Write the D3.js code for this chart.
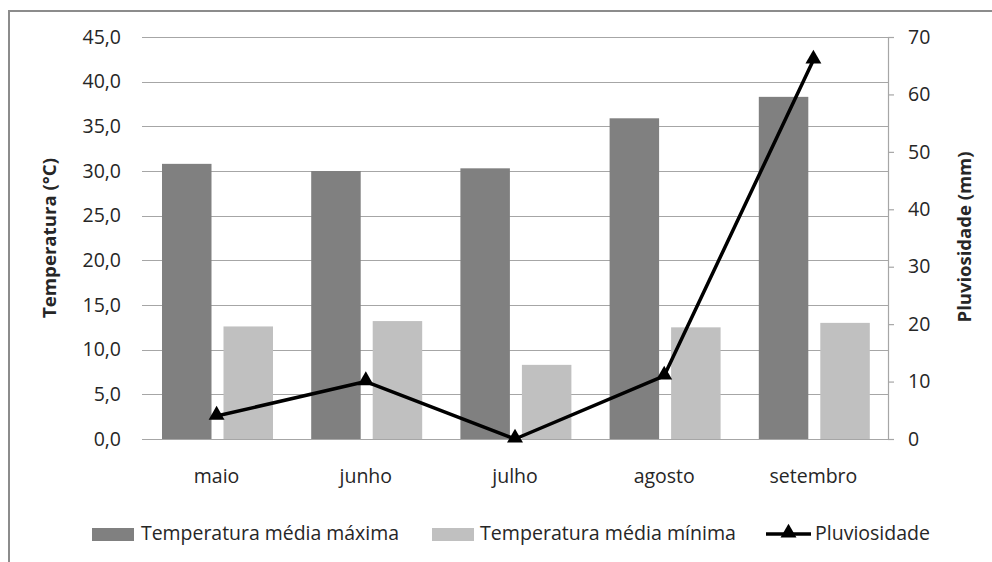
<!DOCTYPE html>
<html>
<head>
<meta charset="utf-8">
<script src="https://cdn.jsdelivr.net/npm/d3@7"></script>
<style>
  html, body { margin: 0; padding: 0; background: #ffffff; }
  svg { display: block; }
  text { font-family: "Open Sans", "DejaVu Sans", sans-serif; fill: #262626; }
</style>
</head>
<body>
<svg id="chart" width="992" height="562"></svg>
<script>
const months = ["maio", "junho", "julho", "agosto", "setembro"];
const tempMax = [30.8, 30.0, 30.3, 35.9, 38.3];
const tempMin = [12.6, 13.2, 8.3, 12.5, 13.0];
const rain = [4, 10, 0, 11, 66];
const leftTicks = [0, 5, 10, 15, 20, 25, 30, 35, 40, 45];
const rightTicks = [0, 10, 20, 30, 40, 50, 60, 70];
const seriesNames = ["Temperatura média máxima", "Temperatura média mínima", "Pluviosidade"];
const seriesColors = ["#808080", "#c0c0c0", "#000000"];

const svg = d3.select("#chart");
const W = 992, H = 562;
const plot = { left: 142, right: 888, top: 37, bottom: 439 };

svg.append("rect").attr("x", 0).attr("y", 0).attr("width", W).attr("height", H).attr("fill", "#ffffff");
// outer frame
svg.append("path")
  .attr("d", `M9,${H + 2} L9,11 L${W + 2},11`)
  .attr("fill", "none").attr("stroke", "#8c8c8c").attr("stroke-width", 2);

const x0 = d3.scaleBand().domain(months).range([plot.left, plot.right]).padding(0);
const x1 = d3.scaleBand().domain(["max", "min"]).range([20, 131]).paddingInner(0.195).paddingOuter(0);
const yL = d3.scaleLinear().domain([0, 45]).range([plot.bottom, plot.top]);
const yR = d3.scaleLinear().domain([0, 70]).range([plot.bottom, plot.top]);

// grid lines
svg.append("g").selectAll("line").data(leftTicks).join("line")
  .attr("x1", plot.left).attr("x2", plot.right)
  .attr("y1", d => Math.round(yL(d)) + 0.5).attr("y2", d => Math.round(yL(d)) + 0.5)
  .attr("stroke", "#a6a6a6").attr("stroke-width", 1.2);

// left axis labels
const fmt = d => d.toFixed(1).replace(".", ",");
svg.append("g").selectAll("text").data(leftTicks).join("text")
  .attr("x", 121).attr("y", d => yL(d)).attr("dy", "0.35em")
  .attr("text-anchor", "end").attr("font-size", 19.5).text(fmt);

// right axis
const rAxis = svg.append("g").attr("transform", `translate(${plot.right},0)`)
  .call(d3.axisRight(yR).tickValues(rightTicks).tickSize(6).tickPadding(14).tickFormat(d3.format("d")));
rAxis.select(".domain").attr("stroke", "#a6a6a6").attr("stroke-width", 1.2);
rAxis.selectAll(".tick line").attr("stroke", "#a6a6a6").attr("stroke-width", 1.2);
rAxis.selectAll(".tick text").attr("font-size", 19.5).attr("fill", "#262626")
  .attr("font-family", "\"Open Sans\", sans-serif");

// bars
const groups = svg.append("g").selectAll("g").data(months).join("g")
  .attr("transform", d => `translate(${x0(d)},0)`);
groups.append("rect")
  .attr("x", x1("max")).attr("width", x1.bandwidth())
  .attr("y", (d, i) => yL(tempMax[i])).attr("height", (d, i) => yL(0) - yL(tempMax[i]))
  .attr("fill", seriesColors[0]);
groups.append("rect")
  .attr("x", x1("min")).attr("width", x1.bandwidth())
  .attr("y", (d, i) => yL(tempMin[i])).attr("height", (d, i) => yL(0) - yL(tempMin[i]))
  .attr("fill", seriesColors[1]);

// bottom axis line
svg.append("line").attr("x1", plot.left).attr("x2", plot.right)
  .attr("y1", plot.bottom + 0.5).attr("y2", plot.bottom + 0.5)
  .attr("stroke", "#a6a6a6").attr("stroke-width", 1.2);

// category labels
svg.append("g").selectAll("text").data(months).join("text")
  .attr("x", d => x0(d) + x0.bandwidth() / 2).attr("y", 483)
  .attr("text-anchor", "middle").attr("font-size", 19.5).text(d => d);

// rain line
const cx = (d, i) => x0(months[i]) + x0.bandwidth() / 2;
const line = d3.line().x((d, i) => cx(d, i)).y(d => yR(d));
svg.append("path").datum(rain).attr("d", line)
  .attr("fill", "none").attr("stroke", "#000").attr("stroke-width", 3.5).attr("stroke-linejoin", "round");
const tri = d3.symbol().type(d3.symbolTriangle).size(110);
svg.append("g").selectAll("path").data(rain).join("path")
  .attr("d", tri).attr("transform", (d, i) => `translate(${cx(d, i)},${yR(d) - 1})`)
  .attr("fill", "#000");

// axis titles
svg.append("text").attr("transform", "translate(56,238) rotate(-90)")
  .attr("text-anchor", "middle").attr("font-size", 18).attr("font-weight", "bold").attr("fill", "#000")
  .attr("textLength", 160).attr("lengthAdjust", "spacingAndGlyphs")
  .text("Temperatura (°C)");
svg.append("text").attr("transform", "translate(971,237) rotate(-90)")
  .attr("text-anchor", "middle").attr("font-size", 18).attr("font-weight", "bold").attr("fill", "#000")
  .attr("textLength", 171).attr("lengthAdjust", "spacingAndGlyphs")
  .text("Pluviosidade (mm)");

// legend
const legY = 540;
const leg = svg.append("g");
const legSpec = [
  { sx: 92, tx: 141, tw: 258 },
  { sx: 432, tx: 480, tw: 256 },
  { sx: 766, tx: 815, tw: 115 }
];
seriesNames.forEach((name, i) => {
  const s = legSpec[i];
  if (i < 2) {
    leg.append("rect").attr("x", s.sx).attr("y", 528).attr("width", 42).attr("height", 13)
      .attr("fill", seriesColors[i]);
  } else {
    leg.append("line").attr("x1", s.sx).attr("x2", s.sx + 45).attr("y1", 534).attr("y2", 534)
      .attr("stroke", "#000").attr("stroke-width", 3.5);
    leg.append("path").attr("d", tri).attr("transform", `translate(${s.sx + 22.5},533)`).attr("fill", "#000");
  }
  leg.append("text").attr("x", s.tx).attr("y", legY).attr("font-size", 20)
    .attr("textLength", s.tw).attr("lengthAdjust", "spacingAndGlyphs").text(name);
});
</script>
</body>
</html>
